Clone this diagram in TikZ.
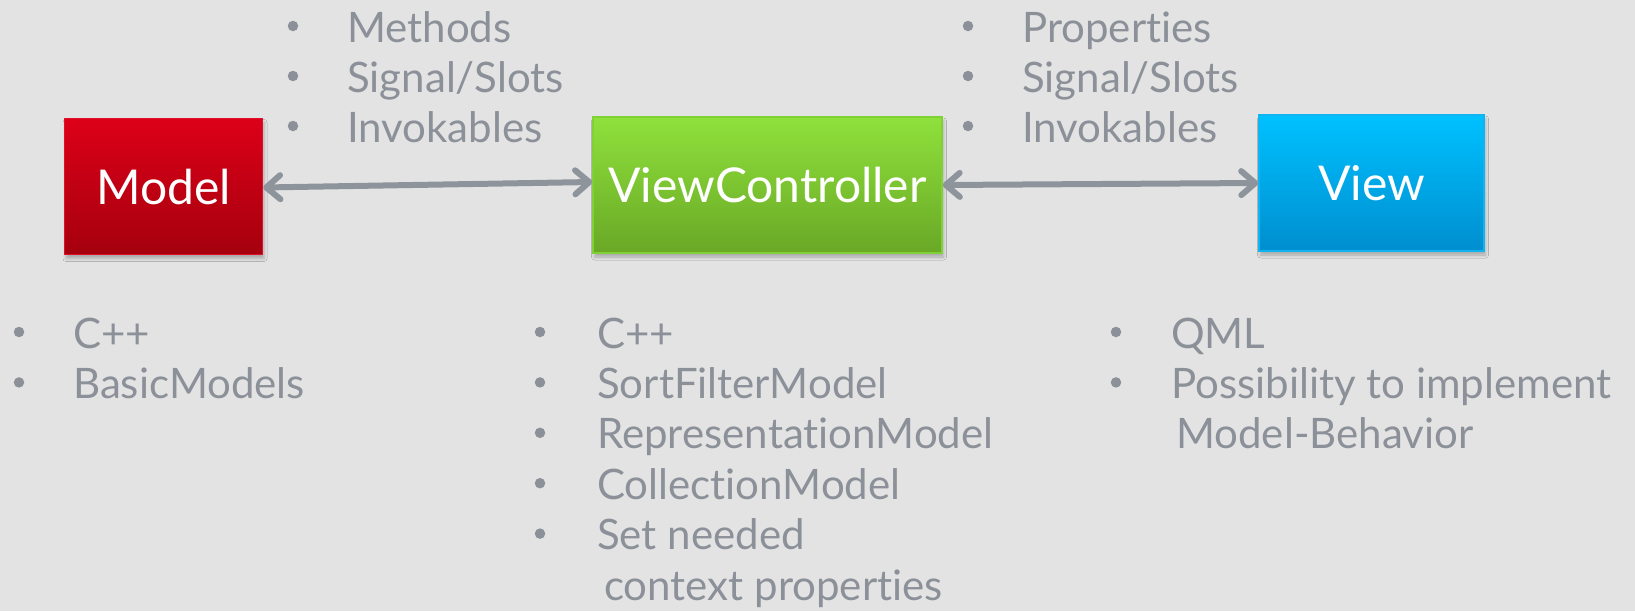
\documentclass[tikz,border=0pt]{standalone}
\usepackage{fontspec}
\setmainfont{Lato}[Ligatures={NoCommon}]
\usetikzlibrary{arrows.meta,shadows.blur}
\definecolor{bg}{HTML}{E3E3E3}
\definecolor{txt}{HTML}{8C9199}
\definecolor{arr}{HTML}{8E949B}
\definecolor{redtop}{HTML}{DC0018}
\definecolor{redbot}{HTML}{A5000E}
\definecolor{redline}{HTML}{E0102A}
\definecolor{greentop}{HTML}{8FE13C}
\definecolor{greenbot}{HTML}{69A826}
\definecolor{greenline}{HTML}{80D134}
\definecolor{bluetop}{HTML}{00C1FF}
\definecolor{bluebot}{HTML}{008ECF}
\definecolor{blueline}{HTML}{10B4F0}
\begin{document}
\begin{tikzpicture}[x=1pt,y=-1pt,
  box/.style={rectangle, minimum height=136pt, inner sep=0pt, line width=1.5pt,
    text=white, font=\fontsize{48}{56}\selectfont,
    blur shadow={shadow xshift=1.5pt, shadow yshift=-4pt, shadow blur radius=3pt, shadow opacity=25}},
  item/.style={anchor=base west, inner sep=0pt, text=txt, font=\fontsize{42}{50}\selectfont},
  dot/.style={circle, fill=txt, inner sep=0pt, minimum size=10.5pt},
  link/.style={draw=arr, line width=6pt, line cap=round,
    {Straight Barb[length=14pt,width=24pt,round]}-{Straight Barb[length=14pt,width=24pt,round]}}
]
\fill[bg] (0,0) rectangle (1635,611);
\useasboundingbox (0,0) rectangle (1635,611);

% the three layers
\node[box, minimum width=198pt, draw=redline, top color=redtop, bottom color=redbot]
  (model) at (163.5,186.5) {Model};
\node[box, minimum width=349pt, draw=greenline, top color=greentop, bottom color=greenbot]
  (vc) at (767.5,185) {ViewController};
\node[box, minimum width=225pt, draw=blueline, top color=bluetop, bottom color=bluebot]
  (view) at (1371.5,183) {View};

% two-way links between the layers
\draw[link] ([yshift=-1pt]model.east) -- ([yshift=3pt]vc.west);
\draw[link] (vc.east) -- (view.west);

% what crosses the Model / ViewController link
\foreach \t [count=\i] in {Methods, Signal/Slots, Invokables} {
  \node[dot] (mcb\i) at (293,{26+50*(\i-1)}) {};
  \node[item] (mc\i) at (347,{42+50*(\i-1)}) {\t};
}
% what crosses the ViewController / View link
\foreach \t [count=\i] in {Properties, Signal/Slots, Invokables} {
  \node[dot] (cvb\i) at (968,{26+50*(\i-1)}) {};
  \node[item] (cv\i) at (1022,{42+50*(\i-1)}) {\t};
}

% Model details
\foreach \t [count=\i] in {C++, BasicModels} {
  \node[dot] (mdb\i) at (19,{332+50.4*(\i-1)}) {};
  \node[item] (md\i) at (73,{348+50.4*(\i-1)}) {\t};
}

% ViewController details
\foreach \t [count=\i] in {C++, SortFilterModel, RepresentationModel, CollectionModel, Set needed} {
  \node[dot] (vcb\i) at (540,{332+50.4*(\i-1)}) {};
  \node[item] (vcd\i) at (597,{348+50.4*(\i-1)}) {\t};
}
\node[item] (vcd6) at (604,{348+50.4*5}) {context properties};

% View details
\node[dot] (vdb1) at (1116,332) {};
\node[item] (vd1) at (1171,348) {QML};
\node[dot] (vdb2) at (1116,382.4) {};
\node[item] (vd2) at (1171,398.4) {Possibility to implement};
\node[item] (vd3) at (1176,448.8) {Model-Behavior};
\end{tikzpicture}
\end{document}
